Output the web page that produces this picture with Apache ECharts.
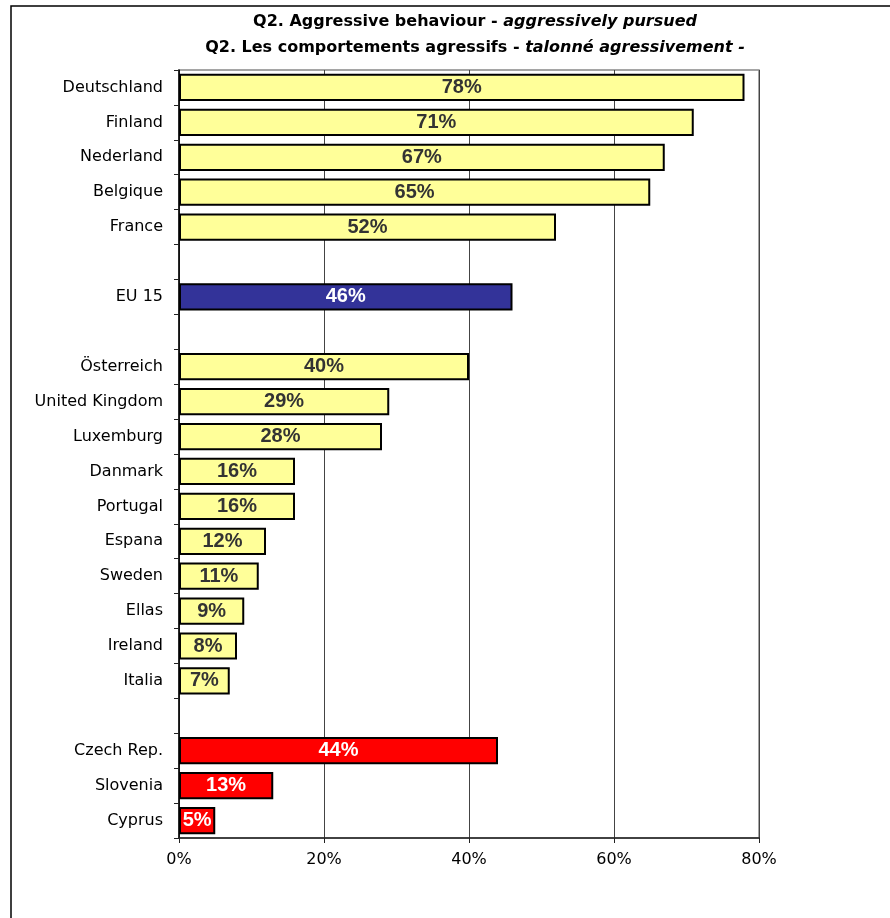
<!DOCTYPE html>
<html><head><meta charset="utf-8">
<script src="https://cdn.jsdelivr.net/npm/echarts@6/dist/echarts.min.js"></script>
<style>html,body{margin:0;padding:0;background:#fff}#c{width:890px;height:918px}</style>
</head><body><div id="c"></div>
<script>
const categories = ['Deutschland','Finland','Nederland','Belgique','France',' ','EU 15','  ','Österreich','United Kingdom','Luxemburg','Danmark','Portugal','Espana','Sweden','Ellas','Ireland','Italia','   ','Czech Rep.','Slovenia','Cyprus'];
const values = [78,71,67,65,52,null,46,null,40,29,28,16,16,12,11,9,8,7,null,44,13,5];
const groups = ['eu','eu','eu','eu','eu',null,'avg',null,'eu','eu','eu','eu','eu','eu','eu','eu','eu','eu',null,'new','new','new'];
const xTicks = [0,20,40,60,80];

const fill = {eu:'#FFFF99', avg:'#333399', new:'#FF0000'};
const txt = {eu:'#333333', avg:'#FFFFFF', new:'#FFFFFF'};
const F = 'DejaVu Sans';
const A = 'Liberation Sans';

const data = values.map((v,i)=> v===null ? null : ({
  value: v,
  itemStyle: {color: fill[groups[i]]},
  label: {color: txt[groups[i]]}
}));

const tRich = {b:{fontFamily:F,fontWeight:'bold',fontSize:16,color:'#000'},i:{fontFamily:F,fontWeight:'bold',fontStyle:'italic',fontSize:16,color:'#000'}};

const chart = echarts.init(document.getElementById('c'));
chart.setOption({
  animation:false,
  backgroundColor:'#fff',
  title:[
    {text:'{b|Q2. Aggressive behaviour - }{i|aggressively pursued}', left:470, top:9, textAlign:'center', textStyle:{rich:tRich}},
    {text:'{b|Q2. Les comportements agressifs - }{i|talonné agressivement -}', left:470, top:35, textAlign:'center', textStyle:{rich:tRich}}
  ],
  graphic:[{type:'rect', shape:{x:11,y:6,width:1000,height:1000}, style:{fill:'none',stroke:'#000',lineWidth:1.5}, silent:true, z:-1}],
  grid:{left:179, right:131, top:70, bottom:80, show:true, borderColor:'#888', borderWidth:1.5},
  xAxis:{type:'value', min:0, max:80, interval:20,
    axisLine:{show:true, lineStyle:{color:'#222', width:1.5}},
    axisTick:{show:true, length:5, lineStyle:{color:'#222'}},
    axisLabel:{formatter:'{value}%', fontFamily:F, fontSize:16, color:'#000', margin:14},
    splitLine:{show:true, lineStyle:{color:'#444', width:1}}
  },
  yAxis:{type:'category', data:categories, inverse:true,
    axisLine:{show:true, lineStyle:{color:'#000', width:1.5}},
    axisTick:{show:true, length:5, lineStyle:{color:'#222'}},
    axisLabel:{fontFamily:F, fontSize:16, color:'#000', margin:16}
  },
  series:[{type:'bar', data:data, barCategoryGap:'22%',
    itemStyle:{borderColor:'#000', borderWidth:2},
    label:{show:true, position:'inside', formatter:'{c}%', fontFamily:A, fontWeight:'bold', fontSize:20}
  }]
});
</script></body></html>
